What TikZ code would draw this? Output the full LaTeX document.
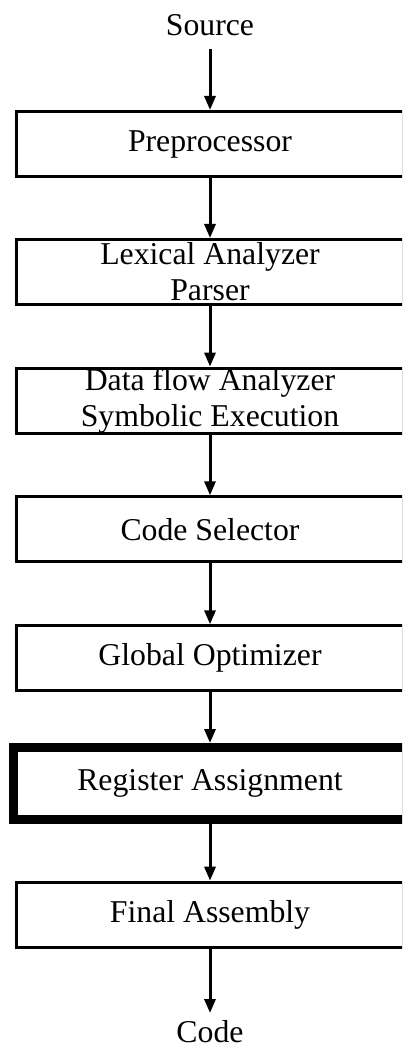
\documentclass[tikz,border=0pt]{standalone}
\usepackage{fontspec}
\setmainfont{Liberation Serif}
\usetikzlibrary{arrows.meta}
\begin{document}
\begin{tikzpicture}[x=1pt,y=-1pt,
  stage/.style={draw, line width=3pt, rectangle, inner sep=0pt,
    minimum width=387pt, minimum height=65pt, align=center,
    font=\fontsize{31.75}{36}\selectfont},
  keystage/.style={stage, line width=9pt, minimum width=393pt, minimum height=71.5pt},
  label/.style={inner sep=0pt, font=\fontsize{31.75}{36}\selectfont},
  flow/.style={line width=3pt, -{Triangle[width=11pt,length=14pt]}}]
\useasboundingbox (0,0) rectangle (402,1048);
\clip (0,0) rectangle (402,1048);
\node[label] (src) at (210,25) {Source};
\node[stage] (pre) at (210,144) {Preprocessor};
\node[stage] (lex) at (210,272) {Lexical Analyzer\\Parser};
\node[stage] (dfa) at (210,400.7) {Data flow Analyzer\\Symbolic Execution};
\node[stage] (sel) at (210,529.3) {Code Selector};
\node[stage] (opt) at (210,658.3) {Global Optimizer};
\node[keystage] (reg) at (210,783.3) {Register Assignment};
\node[stage] (fin) at (210,914.7) {Final Assembly};
\node[label] (out) at (210,1032) {Code};
\coordinate (srcend) at (210,49);
\coordinate (outend) at (210,1013);
\draw[flow] (srcend) -- (pre.north);
\draw[flow] (pre.south) -- (lex.north);
\draw[flow] (lex.south) -- (dfa.north);
\draw[flow] (dfa.south) -- (sel.north);
\draw[flow] (sel.south) -- (opt.north);
\draw[flow] (opt.south) -- (reg.north);
\draw[flow] (reg.south) -- (fin.north);
\draw[flow] (fin.south) -- (outend);
\end{tikzpicture}
\end{document}
